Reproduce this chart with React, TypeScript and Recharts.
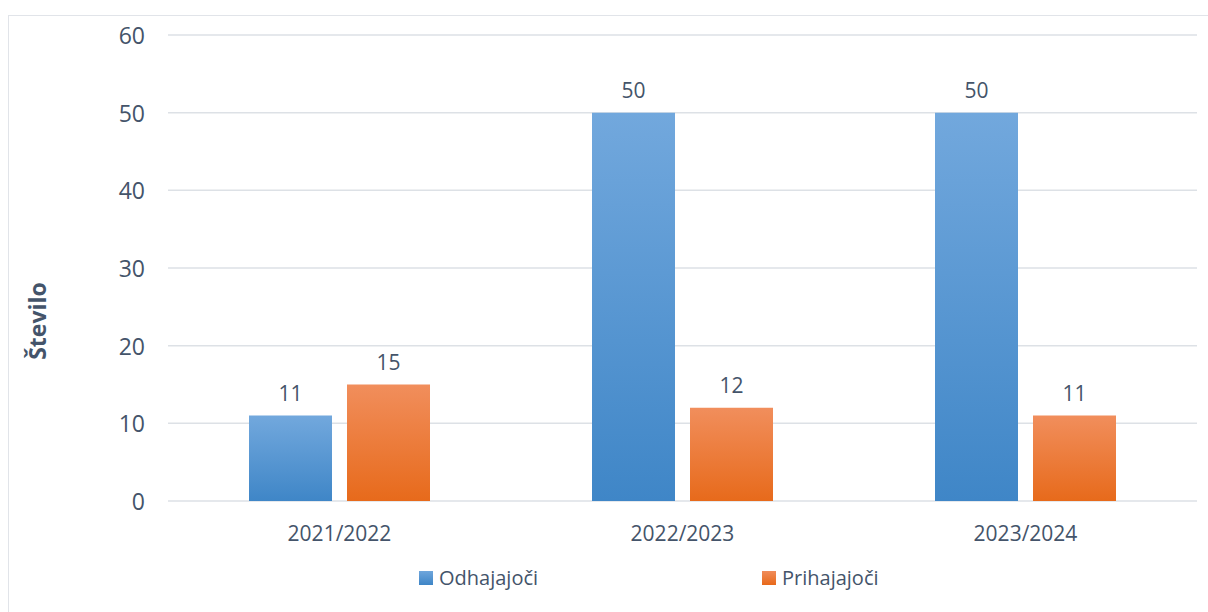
import * as React from "react";
import { BarChart, Bar, XAxis, YAxis, CartesianGrid, LabelList } from "recharts";

const categories = ["2021/2022", "2022/2023", "2023/2024"];
const odhajajoci = [11, 50, 50];
const prihajajoci = [15, 12, 11];
const yTicks = [0, 10, 20, 30, 40, 50, 60];

const TEXT = "#44546a";
const FONT = "'Open Sans', 'Noto Sans', sans-serif";

const rows = categories.map((c, i) => ({ cat: c, odh: odhajajoci[i], pri: prihajajoci[i] }));

const YTick = (props: any) => {
  const { y, payload } = props;
  return (
    <text x={145} y={y} textAnchor="end" dominantBaseline="central" fontSize={23} fill={TEXT} fontFamily={FONT}>
      {payload.value}
    </text>
  );
};

const XTick = (props: any) => {
  const { x, payload } = props;
  return (
    <text x={x} y={533} textAnchor="middle" dominantBaseline="central" fontSize={21} fill={TEXT} fontFamily={FONT}>
      {payload.value}
    </text>
  );
};

const LegendBox = () => (
  <div style={{ position: "absolute", left: 0, top: 564, width: 1208, height: 30, fontFamily: FONT, fontSize: 20, color: TEXT }}>
    <div style={{ position: "absolute", left: 419, top: 0, display: "flex", alignItems: "center" }}>
      <span style={{ width: 14, height: 14, background: "linear-gradient(#6fa6dc, #3e85c6)", marginRight: 6 }} />
      Odhajajoči
    </div>
    <div style={{ position: "absolute", left: 762, top: 0, display: "flex", alignItems: "center" }}>
      <span style={{ width: 14, height: 14, background: "linear-gradient(#f08c5a, #e8691a)", marginRight: 6 }} />
      Prihajajoči
    </div>
  </div>
);

export default function App() {
  return (
    <div style={{ position: "absolute", left: 0, top: 0, width: 1208, height: 612, background: "#fff", overflow: "hidden" }}>
      <div style={{ position: "absolute", left: 8, top: 15, width: 1220, height: 620, border: "1.5px solid #e1e4e9" }} />
      <div style={{ position: "absolute", left: 0, top: 0 }}>
        <BarChart
          width={1208}
          height={612}
          data={rows}
          margin={{ top: 35, right: 11, bottom: 0, left: 0 }}
          barCategoryGap={81}
          barGap={15}
        >
          <defs>
            <linearGradient id="gBlue" x1="0" y1="0" x2="0" y2="1">
              <stop offset="0%" stopColor="#72a8dd" />
              <stop offset="100%" stopColor="#3f86c7" />
            </linearGradient>
            <linearGradient id="gOrange" x1="0" y1="0" x2="0" y2="1">
              <stop offset="0%" stopColor="#f18e5c" />
              <stop offset="100%" stopColor="#e76a1b" />
            </linearGradient>
          </defs>
          <CartesianGrid horizontal vertical={false} stroke="#dde1e6" strokeWidth={1.5} />
          <XAxis dataKey="cat" height={111} axisLine={false} tickLine={false} tick={<XTick />} />
          <YAxis
            width={168}
            domain={[0, 60]}
            ticks={yTicks}
            axisLine={false}
            tickLine={false}
            tick={<YTick />}
            label={{
              value: "Število",
              content: () => (
                <text
                  x={37}
                  y={321}
                  transform="rotate(-90 37 321)"
                  textAnchor="middle"
                  dominantBaseline="central"
                  fontSize={23}
                  fontWeight="bold"
                  fill={TEXT}
                  fontFamily={FONT}
                >
                  Število
                </text>
              ),
            }}
          />
          <Bar dataKey="odh" name="Odhajajoči" fill="url(#gBlue)" isAnimationActive={false}>
            <LabelList dataKey="odh" position="top" offset={15} fill={TEXT} fontSize={21} fontFamily={FONT} />
          </Bar>
          <Bar dataKey="pri" name="Prihajajoči" fill="url(#gOrange)" isAnimationActive={false}>
            <LabelList dataKey="pri" position="top" offset={15} fill={TEXT} fontSize={21} fontFamily={FONT} />
          </Bar>
        </BarChart>
      </div>
      <LegendBox />
    </div>
  );
}
